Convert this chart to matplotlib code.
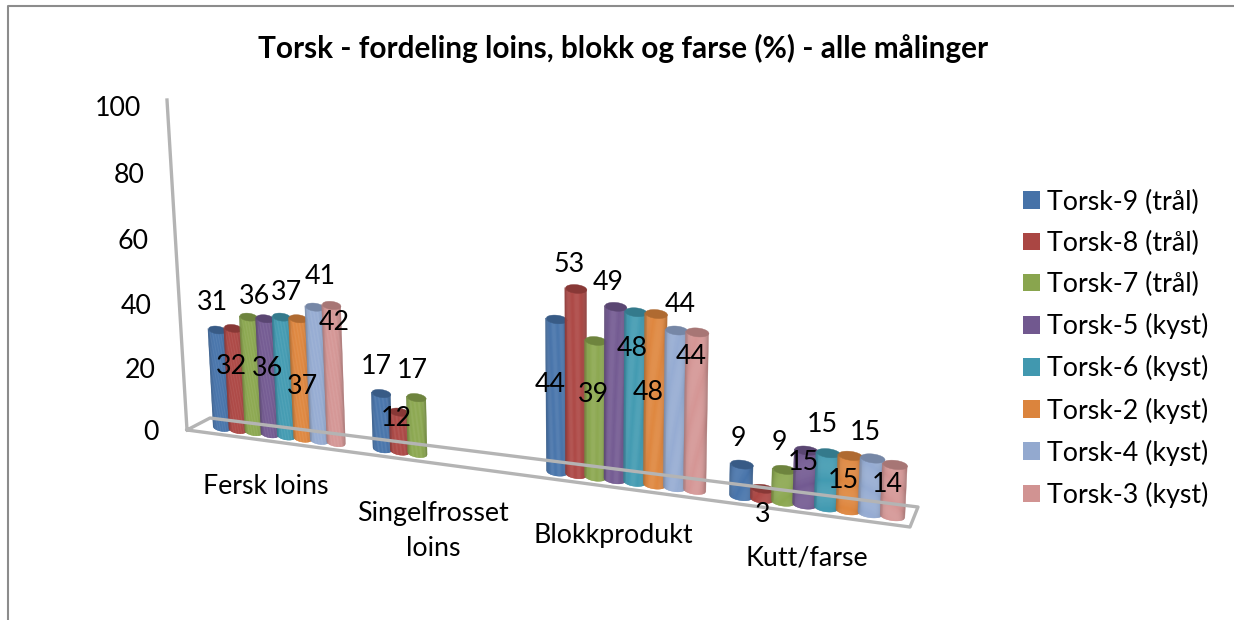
import numpy as np
import matplotlib
matplotlib.use('Agg')
import matplotlib.pyplot as plt
from matplotlib.collections import PolyCollection
from matplotlib.patches import Rectangle
from matplotlib.transforms import Transform

plt.rcParams['font.family'] = ['Lato', 'DejaVu Sans']

categories = ['Fersk loins', 'Singelfrosset\nloins', 'Blokkprodukt', 'Kutt/farse']
series_names = ['Torsk-9 (tr\u00e5l)', 'Torsk-8 (tr\u00e5l)', 'Torsk-7 (tr\u00e5l)', 'Torsk-5 (kyst)',
                'Torsk-6 (kyst)', 'Torsk-2 (kyst)', 'Torsk-4 (kyst)', 'Torsk-3 (kyst)']
colors = ['#4672a8', '#aa4643', '#89a54e', '#71588f', '#4198af', '#db843d', '#93a9cf', '#d19392']

torsk_9 = [31, 17, 44, 9]
torsk_8 = [32, 12, 53, 3]
torsk_7 = [36, 17, 39, 9]
torsk_5 = [36, None, 49, 15]
torsk_6 = [37, None, 48, 15]
torsk_2 = [37, None, 48, 15]
torsk_4 = [41, None, 44, 15]
torsk_3 = [42, None, 44, 14]
series = [torsk_9, torsk_8, torsk_7, torsk_5, torsk_6, torsk_2, torsk_4, torsk_3]
y_ticks = [0, 20, 40, 60, 80, 100]

# pixel position of each data label, same order as series, one row per category
label_px = [
    [(212, 302), (231, 366), (255, 297), (268, 368), (286, 293), (302, 386), (320, 277), (334, 322)],
    [(376, 367), (396, 419), (412, 370)],
    [(550, 385), (569, 264), (593, 395), (608, 283), (632, 349), (648, 393), (680, 305), (691, 357)],
    [(738, 438), (763, 515), (779, 442), (803, 462), (822, 425), (843, 481), (865, 432), (887, 485)],
]
cat_px = [(266, 487), (433, 531), (613, 535), (807, 558)]
group_pos = [0.5, 1.52, 2.53, 3.5]


class Perspective(Transform):
    # (category position, value) -> pixels, fitted on the four corners of the bar plane
    input_dims = 2
    output_dims = 2
    is_affine = False
    has_inverse = False

    def __init__(self, src, dst):
        super().__init__()
        A, b = [], []
        for (u, v), (x, y) in zip(src, dst):
            A.append([u, v, 1, 0, 0, 0, -u*x, -v*x])
            A.append([0, 0, 0, u, v, 1, -u*y, -v*y])
            b += [x, y]
        self.h = np.append(np.linalg.solve(np.array(A, float), np.array(b, float)), 1).reshape(3, 3)

    def transform_non_affine(self, values):
        values = np.asarray(values, float)
        p = np.column_stack([values, np.ones(len(values))]) @ self.h.T
        return p[:, :2] / p[:, 2:]


fig = plt.figure(figsize=(12.34, 6.2), dpi=100)
ax = fig.add_axes([0, 0, 1, 1])
ax.set_xlim(0, 1234)
ax.set_ylim(620, 0)
ax.axis('off')

proj = Perspective([(0, 0), (4, 0), (0, 100), (4, 100)],
                   [(202, 425), (921, 520), (184, 100), (940, 129)])
trans = proj + ax.transData

# frame
ax.plot([8, 8, 1234], [620, 5.5, 5.5], color='#8c8c8c', lw=1.5)

# floor and value axis
grey = '#b4b4b4'
ax.plot([167, 187, 910, 918, 210, 187], [100, 430, 527, 507, 418, 430], color=grey, lw=2.4, solid_joinstyle='round')

for t in y_ticks:
    ax.annotate(str(t), (0, t), xycoords=trans, xytext=(-43, -8), textcoords='offset pixels',
                ha='right', va='center', fontsize=19.3, color='black')

step = 0.105
width = 0.115
rad = 1.2
s = np.linspace(-1, 1, 25)

for g in range(len(categories)):
    for i, vals in enumerate(series):
        val = vals[g]
        if val is None:
            continue
        u = group_pos[g] + (i - 3.5)*step
        us = u + s*width/2
        e = rad*np.sqrt(1 - s**2)
        polys, cols = [], []
        base = np.array(matplotlib.colors.to_rgb(colors[i]))
        for j in range(len(s) - 1):
            polys.append([(us[j], -e[j]), (us[j+1], -e[j+1]), (us[j+1], val - e[j+1]), (us[j], val - e[j])])
            m = (s[j] + s[j+1])/2
            cols.append(np.clip(base*(0.8 + 0.22*(1 - m**4)), 0, 1))
        ax.add_collection(PolyCollection(polys, facecolors=cols, edgecolors=cols, linewidths=0.3, transform=trans),
                          autolim=False)
        cap = [(a, val + b) for a, b in zip(us, e)] + [(a, val - b) for a, b in zip(us[::-1], e[::-1])]
        ax.add_collection(PolyCollection([cap], facecolors=[base*0.8], edgecolors=[base*0.8], linewidths=0.3,
                                         transform=trans), autolim=False)

# data labels go on top of all the bars
for g, row in enumerate(label_px):
    for i, (x, y) in enumerate(row):
        ax.text(x, y, str(series[i][g]), ha='center', va='center', fontsize=19.3, color='black', zorder=5)

for name, (x, y) in zip(categories, cat_px):
    ax.text(x, y, name, ha='center', va='center', fontsize=19.3, color='black', linespacing=1.55)

ax.text(623, 48, 'Torsk - fordeling loins, blokk og farse (%) - alle m\u00e5linger', ha='center', va='center',
        fontsize=21.4, fontweight='bold', color='black')

handles = [Rectangle((0, 0), 1, 1, facecolor=c) for c in colors]
ax.legend(handles, series_names, loc='upper left', bbox_to_anchor=(1023/1234, 1 - 189.5/620), frameon=False,
          fontsize=19.3, handlelength=0.635, handleheight=0.635, handletextpad=0.26, labelspacing=0.6,
          borderpad=0, borderaxespad=0)

fig.savefig('out.png', dpi=100)
